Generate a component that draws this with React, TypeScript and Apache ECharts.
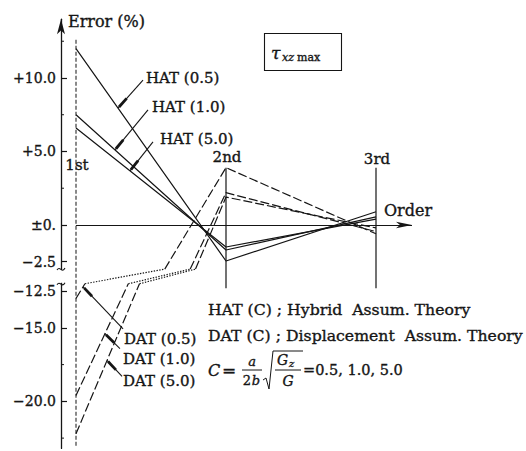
import { useEffect, useRef } from 'react';
import * as echarts from 'echarts';

// Order of the solution (horizontal position of each stage)
const orders = ['1st', '2nd', '3rd'];
const orderPos = [1, 2, 3];

// Error (%) of tau_xz max at each order
const hat05 = [12.0, -2.45, 0.9];
const hat10 = [7.5, -1.7, 0.55];
const hat50 = [6.6, -1.5, 0.4];
const dat05 = [-13.0, 3.9, -0.6];
const dat10 = [-19.6, 2.2, -0.45];
const dat50 = [-22.2, 1.9, -0.2];

// Vertical axis ticks (real error values)
const majorTicks = [10, 5, 0, -2.5, -12.5, -15, -20];
const majorTickLabels = ['+10.0', '+5.0', '±0.', '−2.5', '−12.5', '−15.0', '−20.0'];
const minorTicks = [12.5, 7.5, 2.5, -17.5, -22.5];

// Broken axis: everything between BREAK_TOP and BREAK_BOTTOM is squeezed into BREAK_SPAN
const BREAK_TOP = -3;
const BREAK_BOTTOM = -12;
const BREAK_SPAN = 1;
function toAxis(v: number): number {
  if (v >= BREAK_TOP) return v;
  if (v <= BREAK_BOTTOM) return v + (BREAK_TOP - BREAK_BOTTOM) - BREAK_SPAN;
  return BREAK_TOP + ((v - BREAK_TOP) * BREAK_SPAN) / (BREAK_TOP - BREAK_BOTTOM);
}

const FONT = '"DejaVu Serif", serif';
const INK = '#151515';
const TEXT_EDGE = 0.35;

type Run = { inBreak: boolean; pts: number[][] };

// split a polyline (straight in real values) where it enters / leaves the break zone
function runs(values: number[]): Run[] {
  const out: Run[] = [];
  for (let i = 0; i < values.length - 1; i++) {
    const x0 = orderPos[i], x1 = orderPos[i + 1];
    const v0 = values[i], v1 = values[i + 1];
    const cuts = [0, 1];
    for (const b of [BREAK_TOP, BREAK_BOTTOM]) {
      const t = (b - v0) / (v1 - v0);
      if (t > 0 && t < 1) cuts.push(t);
    }
    cuts.sort((a, b) => a - b);
    for (let k = 0; k < cuts.length - 1; k++) {
      const ta = cuts[k], tb = cuts[k + 1];
      const vm = v0 + ((v1 - v0) * (ta + tb)) / 2;
      const inBreak = vm < BREAK_TOP && vm > BREAK_BOTTOM;
      const a = [x0 + (x1 - x0) * ta, v0 + (v1 - v0) * ta];
      const b = [x0 + (x1 - x0) * tb, v0 + (v1 - v0) * tb];
      const last = out[out.length - 1];
      if (last && last.inBreak === inBreak) last.pts.push(b);
      else out.push({ inBreak, pts: [a, b] });
    }
  }
  return out;
}

function valueAt(values: number[], x: number): number {
  const i = Math.min(values.length - 2, Math.max(0, Math.floor(x - orderPos[0])));
  const t = (x - orderPos[i]) / (orderPos[i + 1] - orderPos[i]);
  return values[i] + (values[i + 1] - values[i]) * t;
}

const curves = [
  { name: 'HAT (0.5)', values: hat05, dash: 'solid' as any },
  { name: 'HAT (1.0)', values: hat10, dash: 'solid' as any },
  { name: 'HAT (5.0)', values: hat50, dash: 'solid' as any },
  { name: 'DAT (0.5)', values: dat05, dash: [9, 3] },
  { name: 'DAT (1.0)', values: dat10, dash: [9, 3] },
  { name: 'DAT (5.0)', values: dat50, dash: [9, 3] },
];

// leader lines: where they touch the curve, and where the label sits relative to it
const leaders = [
  { name: 'HAT (0.5)', values: hat05, at: 1.28, dx: 25, dy: -28, lx: 3, ly: -2 },
  { name: 'HAT (1.0)', values: hat10, at: 1.26, dx: 33, dy: -40, lx: 4, ly: -3 },
  { name: 'HAT (5.0)', values: hat50, at: 1.36, dx: 23, dy: -29, lx: 7, ly: -3 },
  { name: 'DAT (0.5)', values: dat05, at: 1.047, dx: 40, dy: 42, lx: 1, ly: 10 },
  { name: 'DAT (1.0)', values: dat10, at: 1.193, dx: 15, dy: 15, lx: 3, ly: 10 },
  { name: 'DAT (5.0)', values: dat50, at: 1.207, dx: 15, dy: 16, lx: 1, ly: 5 },
];

function txt(text: string, x: number, y: number, size: number, opts: any = {}) {
  const align = opts.align || 'left';
  return {
    type: 'text',
    x,
    y,
    silent: true,
    style: {
      text,
      font: `${opts.italic ? 'italic ' : ''}${size}px ${FONT}`,
      fill: INK,
      stroke: INK,
      lineWidth: TEXT_EDGE,
      textAlign: align,
      align,
      textVerticalAlign: 'middle',
      verticalAlign: 'middle',
    },
  };
}

function seg(x1: number, y1: number, x2: number, y2: number, w = 1) {
  return {
    type: 'line',
    silent: true,
    shape: { x1, y1, x2, y2 },
    style: { stroke: INK, lineWidth: w },
  };
}

export default function App() {
  const ref = useRef<HTMLDivElement>(null);

  useEffect(() => {
    if (!ref.current) return;
    const chart = echarts.init(ref.current, null, { renderer: 'svg', width: 526, height: 451 });

    const series: any[] = [];
    curves.forEach((c) => {
      runs(c.values).forEach((r) => {
        series.push({
          type: 'line',
          name: c.name,
          silent: true,
          symbol: 'none',
          data: r.pts.map(([x, v]) => [x, toAxis(v)]),
          lineStyle: {
            color: INK,
            width: r.inBreak ? 1.2 : 1.2,
            type: r.inBreak ? [1.4, 1.4] : c.dash,
          },
          z: 3,
        });
      });
    });

    // order guides
    series.push({
      type: 'line',
      silent: true,
      symbol: 'none',
      data: [[orderPos[0], toAxis(12.6)], [orderPos[0], toAxis(-23.1)]],
      lineStyle: { color: INK, width: 1, type: [4, 2] },
      markLine: {
        silent: true,
        symbol: ['none', 'arrow'],
        symbolSize: [5, 16],
        label: { show: false },
        lineStyle: { color: INK, width: 1.2, type: 'solid' },
        data: [[{ coord: [orderPos[0], 0] }, { coord: [3.24, 0] }]],
      },
      z: 2,
    });
    [orderPos[1], orderPos[2]].forEach((x) => {
      series.push({
        type: 'line',
        silent: true,
        symbol: 'none',
        data: [[x, toAxis(3.9)], [x, toAxis(-12.3)]],
        lineStyle: { color: INK, width: 1.2 },
        z: 2,
      });
    });

    const tickAxisValues = majorTicks.map(toAxis);

    chart.setOption({
      animation: false,
      backgroundColor: '#fff',
      grid: { left: 61, right: 105, top: 19.2, bottom: 2.6 },
      xAxis: {
        type: 'value',
        min: 0.9,
        max: 3.3,
        show: false,
      },
      yAxis: {
        type: 'value',
        min: -15.2,
        max: 14,
        position: 'left',
        axisLine: {
          show: true,
          onZero: false,
          symbol: ['none', 'arrow'],
          symbolSize: [6, 15],
          lineStyle: { color: INK, width: 1.3 },
        },
        axisTick: {
          show: true,
          inside: true,
          length: 6,
          customValues: tickAxisValues,
          lineStyle: { color: INK, width: 1.2 },
        },
        axisLabel: {
          customValues: tickAxisValues,
          margin: 5,
          color: INK,
          fontFamily: FONT,
          fontSize: 14,
          textBorderColor: INK,
          textBorderWidth: TEXT_EDGE,
          formatter: (val: number) => {
            const i = tickAxisValues.findIndex((t) => Math.abs(t - val) < 1e-6);
            return i >= 0 ? majorTickLabels[i] : '';
          },
        },
        splitLine: { show: false },
      },
      series,
    });

    const px = (x: number, v: number) =>
      chart.convertToPixel({ xAxisIndex: 0, yAxisIndex: 0 }, [x, toAxis(v)]) as number[];

    const g: any[] = [];
    const axisX = px(0.9, 0)[0];

    // minor ticks
    minorTicks.forEach((v) => {
      const y = px(0.9, v)[1];
      g.push(seg(axisX, y, axisX + 3, y, 1));
    });

    // break in the vertical axis
    const yb1 = px(0.9, BREAK_TOP)[1];
    const yb2 = px(0.9, BREAK_BOTTOM)[1];
    g.push({
      type: 'rect',
      silent: true,
      shape: { x: axisX - 3, y: yb1 + 1, width: 6, height: yb2 - yb1 - 2 },
      style: { fill: '#fff' },
      z: 50,
    });
    [yb1, yb2].forEach((y) => {
      g.push({
        type: 'bezierCurve',
        silent: true,
        shape: { x1: axisX - 4, y1: y + 1, cpx1: axisX - 1, cpy1: y - 4, cpx2: axisX + 1, cpy2: y + 5, x2: axisX + 4, y2: y - 1 },
        style: { stroke: INK, lineWidth: 1.1, fill: 'none' },
        z: 51,
      });
    });

    // axis captions
    g.push(txt('Error (%)', 68, 21, 16));
    g.push(txt('Order', 384, 210, 16));
    const orderY = [165, 157, 159];
    orders.forEach((o, i) => {
      g.push(txt(o, px(orderPos[i], 0)[0] + 1, orderY[i], 15, { align: 'center' }));
    });

    // title box
    g.push({
      type: 'rect',
      silent: true,
      shape: { x: 264.5, y: 33.5, width: 77, height: 37 },
      style: { stroke: INK, lineWidth: 1.1, fill: 'none' },
    });
    g.push(txt('τ', 271, 53, 17, { italic: true }));
    g.push(txt('xz', 282, 57, 11, { italic: true }));
    g.push(txt('max', 297, 57, 11));

    // leaders and labels
    leaders.forEach((l) => {
      const [tx, ty] = px(l.at, valueAt(l.values, l.at));
      const sx = tx + l.dx, sy = ty + l.dy;
      g.push(seg(tx, ty, sx, sy, 1.1));
      const len = Math.hypot(l.dx, l.dy);
      const f0 = 1.5 / len, f1 = 13 / len;
      g.push(seg(tx + l.dx * f0, ty + l.dy * f0, tx + l.dx * f1, ty + l.dy * f1, 2.8));
      g.push(txt(l.name, sx + l.lx, sy + l.ly, 15));
    });

    // notes
    g.push(txt('HAT (C) ; Hybrid  Assum. Theory', 208, 309, 15.7));
    g.push(txt('DAT (C) ; Displacement  Assum. Theory', 208, 335, 15.7));

    // C = a/(2b) * sqrt(Gz/G) = 0.5, 1.0, 5.0
    g.push(txt('C', 208, 370, 16, { italic: true }));
    g.push(txt('=', 222, 370, 17));
    g.push(txt('a', 252, 361, 13, { italic: true, align: 'center' }));
    g.push(seg(242, 370, 262, 370, 1));
    g.push(txt('2', 247, 380, 13, { align: 'center' }));
    g.push(txt('b', 256, 380, 13, { italic: true, align: 'center' }));
    g.push({
      type: 'polyline',
      silent: true,
      shape: { points: [[263, 380], [266, 378], [269, 389], [273, 351], [303, 351]] },
      style: { stroke: INK, lineWidth: 1, fill: 'none' },
    });
    g.push(txt('G', 277, 360, 14, { italic: true }));
    g.push(txt('z', 289, 363, 10, { italic: true }));
    g.push(seg(275, 370, 301, 370, 1));
    g.push(txt('G', 288, 381, 14, { italic: true, align: 'center' }));
    g.push(txt('=0.5, 1.0, 5.0', 303, 370, 14.5));

    chart.setOption({ graphic: g });

    return () => chart.dispose();
  }, []);

  return (
    <div
      ref={ref}
      style={{ position: 'absolute', left: 0, top: 0, width: 526, height: 451, background: '#fff' }}
    />
  );
}
